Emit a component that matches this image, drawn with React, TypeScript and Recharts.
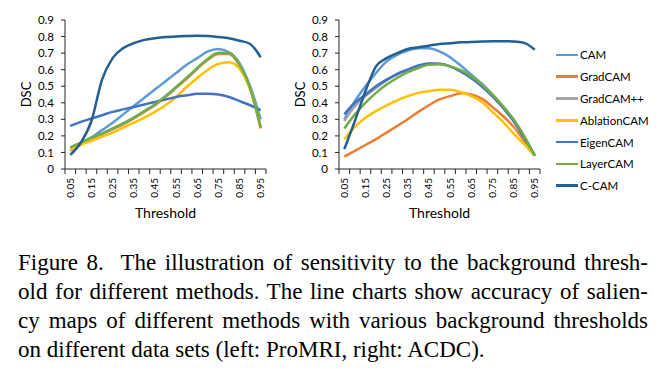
import { LineChart, Line, XAxis, YAxis, Legend } from 'recharts';

const thresholds = [
  '0.05', '0.10', '0.15', '0.20', '0.25', '0.30', '0.35', '0.40', '0.45', '0.50',
  '0.55', '0.60', '0.65', '0.70', '0.75', '0.80', '0.85', '0.90', '0.95',
];

const seriesNames = ['CAM', 'GradCAM', 'GradCAM++', 'AblationCAM', 'EigenCAM', 'LayerCAM', 'C-CAM'];
const seriesColors = ['#5B9BD5', '#ED7D31', '#A5A5A5', '#FFC000', '#4472C4', '#70AD47', '#255E91'];

const yTicks = [0, 0.1, 0.2, 0.3, 0.4, 0.5, 0.6, 0.7, 0.8, 0.9];

// left: ProMRI
const camLeft = [0.11, 0.15, 0.19, 0.235, 0.28, 0.33, 0.38, 0.43, 0.48, 0.53, 0.58, 0.63, 0.67, 0.71, 0.725, 0.705, 0.64, 0.5, 0.3];
const gradLeft = [0.125, 0.155, 0.185, 0.21, 0.24, 0.27, 0.305, 0.345, 0.385, 0.435, 0.49, 0.545, 0.605, 0.66, 0.695, 0.695, 0.625, 0.485, 0.245];
const gradPPLeft = [0.128, 0.158, 0.188, 0.214, 0.244, 0.274, 0.309, 0.349, 0.389, 0.44, 0.494, 0.55, 0.608, 0.664, 0.7, 0.7, 0.632, 0.492, 0.252];
const ablationLeft = [0.115, 0.145, 0.17, 0.195, 0.22, 0.25, 0.28, 0.31, 0.345, 0.385, 0.435, 0.495, 0.55, 0.6, 0.635, 0.645, 0.605, 0.48, 0.255];
const eigenLeft = [0.26, 0.285, 0.305, 0.325, 0.345, 0.36, 0.375, 0.39, 0.405, 0.42, 0.435, 0.445, 0.455, 0.455, 0.45, 0.435, 0.41, 0.385, 0.355];
const layerLeft = [0.13, 0.16, 0.19, 0.215, 0.245, 0.275, 0.31, 0.35, 0.39, 0.44, 0.495, 0.55, 0.61, 0.665, 0.7, 0.7, 0.63, 0.49, 0.25];
const ccamLeft = [0.085, 0.16, 0.29, 0.54, 0.67, 0.73, 0.76, 0.78, 0.79, 0.797, 0.8, 0.803, 0.805, 0.803, 0.797, 0.79, 0.775, 0.755, 0.675];

// right: ACDC
const camRight = [0.3, 0.41, 0.5, 0.58, 0.65, 0.69, 0.715, 0.73, 0.73, 0.71, 0.675, 0.625, 0.57, 0.515, 0.45, 0.375, 0.295, 0.195, 0.08];
const gradRight = [0.075, 0.11, 0.145, 0.18, 0.22, 0.26, 0.3, 0.345, 0.385, 0.42, 0.44, 0.457, 0.45, 0.425, 0.375, 0.32, 0.255, 0.17, 0.08];
const gradPPRight = [0.29, 0.38, 0.44, 0.49, 0.535, 0.57, 0.6, 0.62, 0.635, 0.635, 0.62, 0.59, 0.55, 0.5, 0.44, 0.37, 0.29, 0.19, 0.08];
const ablationRight = [0.18, 0.255, 0.31, 0.35, 0.385, 0.415, 0.44, 0.46, 0.47, 0.478, 0.478, 0.465, 0.44, 0.405, 0.345, 0.285, 0.215, 0.15, 0.08];
const eigenRight = [0.33, 0.4, 0.45, 0.5, 0.54, 0.575, 0.6, 0.625, 0.637, 0.635, 0.62, 0.59, 0.55, 0.5, 0.44, 0.37, 0.29, 0.19, 0.085];
const layerRight = [0.245, 0.33, 0.4, 0.46, 0.51, 0.55, 0.585, 0.61, 0.63, 0.632, 0.62, 0.597, 0.56, 0.51, 0.45, 0.38, 0.3, 0.2, 0.08];
const ccamRight = [0.12, 0.29, 0.47, 0.62, 0.67, 0.7, 0.725, 0.735, 0.745, 0.755, 0.76, 0.765, 0.767, 0.77, 0.772, 0.772, 0.77, 0.762, 0.72];

const captionLines = [
  'Figure 8.  The illustration of sensitivity to the background thresh-',
  'old for different methods. The line charts show accuracy of salien-',
  'cy maps of different methods with various background thresholds',
  'on different data sets (left: ProMRI, right: ACDC).',
];

const buildRows = (series: number[][]) =>
  thresholds.map((t, i) => {
    const row: Record<string, number | string> = { t };
    seriesNames.forEach((name, k) => {
      row[name] = series[k][i];
    });
    return row;
  });

const leftData = buildRows([camLeft, gradLeft, gradPPLeft, ablationLeft, eigenLeft, layerLeft, ccamLeft]);
const rightData = buildRows([camRight, gradRight, gradPPRight, ablationRight, eigenRight, layerRight, ccamRight]);

const AXIS = '#262626';
const PLOT_W = 201;
const BAND = PLOT_W / thresholds.length;

// excel style: tick marks between categories, label on every other one
const ThresholdTick = (props: any) => {
  const { x, y, payload, index } = props;
  const half = BAND / 2;
  return (
    <g>
      <line x1={x - half} y1={y} x2={x - half} y2={y + 5} stroke={AXIS} />
      {index === thresholds.length - 1 && (
        <line x1={x + half} y1={y} x2={x + half} y2={y + 5} stroke={AXIS} />
      )}
      {index % 2 === 0 && (
        <text
          transform={`translate(${x},${y + 9}) rotate(-90)`}
          textAnchor='end'
          dy='0.35em'
          fontSize={10}
          fill='#000'
        >
          {payload.value}
        </text>
      )}
    </g>
  );
};

const LegendList = ({ payload }: any) => {
  const items = [...(payload || [])].sort(
    (a: any, b: any) => seriesNames.indexOf(a.value) - seriesNames.indexOf(b.value)
  );
  return (
    <div>
      {items.map((entry: any) => (
        <div key={entry.value} style={{ display: 'flex', alignItems: 'center', height: 21.8 }}>
          <span style={{ display: 'inline-block', width: 22, height: 2.5, background: entry.color }} />
          <span style={{ marginLeft: 2, fontSize: 11.5, color: '#000' }}>{entry.value}</span>
        </div>
      ))}
    </div>
  );
};

const DscChart = ({ data, width, showLegend }: { data: any[]; width: number; showLegend?: boolean }) => (
  <LineChart
    width={width}
    height={230}
    data={data}
    margin={{ top: 20, right: width - 29 - 36 - PLOT_W, bottom: 0, left: 29 }}
    style={{ fontFamily: 'Lato, sans-serif' }}
  >
    <XAxis
      dataKey='t'
      interval={0}
      height={61}
      tickLine={false}
      tickSize={0}
      tickMargin={0}
      tick={<ThresholdTick />}
      padding={{ left: BAND / 2, right: BAND / 2 }}
      axisLine={{ stroke: AXIS }}
      label={{ value: 'Threshold', position: 'insideBottom', offset: 12, fontSize: 14, fill: '#000' }}
    />
    <YAxis
      width={36}
      domain={[0, 0.9]}
      ticks={yTicks}
      interval={0}
      tickSize={4}
      tickMargin={7}
      tickFormatter={(v: number) => (v === 0 ? '0' : v.toFixed(1))}
      tick={{ fontSize: 11.5, fill: '#000' }}
      axisLine={{ stroke: AXIS }}
      tickLine={{ stroke: AXIS }}
      label={{ value: 'DSC', angle: -90, position: 'center', dx: -21, fontSize: 13, fill: '#000' }}
    />
    {seriesNames.map((name, k) => (
      <Line
        key={name}
        type='monotone'
        dataKey={name}
        stroke={seriesColors[k]}
        strokeWidth={2.5}
        dot={false}
        isAnimationActive={false}
      />
    ))}
    {showLegend && (
      <Legend
        layout='vertical'
        align='center'
        verticalAlign='middle'
        wrapperStyle={{ left: 282, top: 44, width: 'auto', height: 'auto' }}
        content={<LegendList />}
      />
    )}
  </LineChart>
);

const App = () => {
  return (
    <div style={{ position: 'absolute', left: 0, top: 0, width: 667, height: 383, background: '#fff' }}>
      <div style={{ position: 'absolute', left: 0, top: 0 }}>
        <DscChart data={leftData} width={275} />
      </div>
      <div style={{ position: 'absolute', left: 274, top: 0 }}>
        <DscChart data={rightData} width={393} showLegend />
      </div>
      <div
        style={{
          position: 'absolute',
          left: 18,
          top: 248,
          width: 630,
          fontFamily: '"Liberation Serif", "Times New Roman", serif',
          fontSize: 23,
          lineHeight: '29px',
          color: '#000',
        }}
      >
        {captionLines.map((line, i) => (
          <div
            key={i}
            style={{
              textAlign: 'justify',
              textAlignLast: i < captionLines.length - 1 ? 'justify' : 'left',
              whiteSpace: 'pre-wrap',
            }}
          >
            {line}
          </div>
        ))}
      </div>
    </div>
  );
};

export default App;
